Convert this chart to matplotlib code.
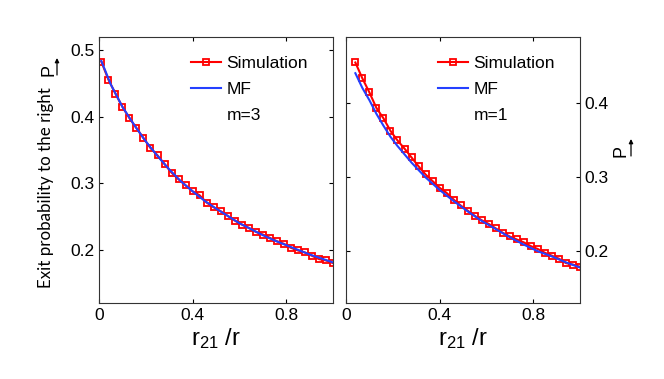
import matplotlib
matplotlib.use('Agg')
import matplotlib.pyplot as plt
from matplotlib.lines import Line2D
from matplotlib.patches import FancyArrowPatch

plt.rcParams['font.family'] = ['Liberation Sans', 'DejaVu Sans']
plt.rcParams['mathtext.fontset'] = 'custom'
plt.rcParams['mathtext.rm'] = 'Liberation Sans'

# left panel, m=3
x_sim3 = [0.01, 0.04, 0.07, 0.10, 0.13, 0.16, 0.19, 0.22, 0.25, 0.28, 0.31, 0.34,
          0.37, 0.40, 0.43, 0.46, 0.49, 0.52, 0.55, 0.58, 0.61, 0.64, 0.67, 0.70,
          0.73, 0.76, 0.79, 0.82, 0.85, 0.88, 0.91, 0.94, 0.97, 1.00]
y_sim3 = [0.483, 0.456, 0.435, 0.415, 0.398, 0.383, 0.368, 0.353, 0.342, 0.329,
          0.316, 0.306, 0.297, 0.288, 0.282, 0.271, 0.264, 0.258, 0.251, 0.244,
          0.238, 0.233, 0.227, 0.223, 0.218, 0.213, 0.209, 0.203, 0.199, 0.196,
          0.191, 0.186, 0.184, 0.180]
x_mf3 = [0.01, 0.05, 0.10, 0.15, 0.20, 0.25, 0.30, 0.35, 0.40, 0.45, 0.50,
         0.55, 0.60, 0.65, 0.70, 0.75, 0.80, 0.85, 0.90, 0.95, 1.00]
y_mf3 = [0.484, 0.449, 0.415, 0.388, 0.363, 0.341, 0.321, 0.303, 0.288, 0.274,
         0.262, 0.251, 0.240, 0.231, 0.222, 0.214, 0.207, 0.200, 0.193, 0.187, 0.181]

# right panel, m=1
x_sim1 = [0.04, 0.07, 0.10, 0.13, 0.16, 0.19, 0.22, 0.25, 0.28, 0.31, 0.34, 0.37,
          0.40, 0.43, 0.46, 0.49, 0.52, 0.55, 0.58, 0.61, 0.64, 0.67, 0.70, 0.73,
          0.76, 0.79, 0.82, 0.85, 0.88, 0.91, 0.94, 0.97, 1.00]
y_sim1 = [0.4555, 0.434, 0.415, 0.394, 0.380, 0.363, 0.350, 0.339, 0.327, 0.315,
          0.304, 0.295, 0.286, 0.279, 0.270, 0.262, 0.255, 0.248, 0.242, 0.237,
          0.231, 0.225, 0.220, 0.216, 0.212, 0.207, 0.203, 0.198, 0.194, 0.190,
          0.184, 0.182, 0.179]
x_mf1 = [0.04, 0.07, 0.10, 0.13, 0.16, 0.19, 0.22, 0.28, 0.34, 0.40, 0.46, 0.52,
         0.58, 0.64, 0.70, 0.76, 0.82, 0.88, 0.94, 1.00]
y_mf1 = [0.441, 0.421, 0.4045, 0.386, 0.370, 0.355, 0.3425, 0.320, 0.300, 0.283,
         0.268, 0.254, 0.241, 0.230, 0.219, 0.209, 0.200, 0.193, 0.185, 0.178]

xticks = [0, 0.4, 0.8]
xticklabels = ['0', '0.4', '0.8']

red = '#ff0000'
blue = '#2440ff'

fig = plt.figure(figsize=(6.64, 3.79), dpi=100)
ax1 = fig.add_axes([99/664, 76/379, 234/664, 266/379])
ax2 = fig.add_axes([346/664, 76/379, 234/664, 266/379])


def panel(ax, xs, ys, xm, ym, mlabel):
    ax.plot(xs, ys, '-s', color=red, lw=1.5, ms=4.8, mfc='none', mec=red, mew=1.3,
            label='Simulation')
    ax.plot(xm, ym, '-', color=blue, lw=1.5, label='MF')
    ax.set_xlim(0, 1.0)
    ax.set_xticks(xticks)
    ax.set_xticklabels(xticklabels)
    ax.tick_params(direction='in', length=3, width=0.8, labelsize=12.5,
                   top=True, right=True)
    for s in ax.spines.values():
        s.set_linewidth(0.8)
        s.set_color('#333333')
    ax.set_xlabel(r'$\mathregular{r_{21}}$ /r', fontsize=17, labelpad=2)
    handles, labels = ax.get_legend_handles_labels()
    handles.append(Line2D([], [], color='none'))
    labels.append(mlabel)
    ax.legend(handles, labels, loc='upper right', frameon=False, fontsize=12.5,
              handlelength=1.75, handletextpad=0.3, labelspacing=0.62,
              borderaxespad=0.3, bbox_to_anchor=(0.945, 0.975))


def p_label(x, y, ax_x, y0, y1):
    # "P" with a small arrow at its foot (rotated label)
    fig.text(x/664, 1 - y/379, 'P', rotation=90, ha='center', va='center',
             fontsize=13)
    arr = FancyArrowPatch((ax_x/664, 1 - y0/379), (ax_x/664, 1 - y1/379),
                          transform=fig.transFigure, arrowstyle='-|>',
                          mutation_scale=6, lw=0.9, color='black',
                          shrinkA=0, shrinkB=0)
    fig.add_artist(arr)


panel(ax1, x_sim3, y_sim3, x_mf3, y_mf3, 'm=3')
ax1.set_ylim(0.12, 0.52)
ax1.set_yticks([0.2, 0.3, 0.4, 0.5])

panel(ax2, x_sim1, y_sim1, x_mf1, y_mf1, 'm=1')
ax2.set_ylim(0.13, 0.49)
ax2.set_yticks([0.2, 0.3, 0.4])
ax2.tick_params(labelleft=False, labelright=True)

fig.text(46/664, 1 - 188/379, 'Exit probability to the right', rotation=90,
         ha='center', va='center', fontsize=12.2, family=['Lato', 'DejaVu Sans'])
p_label(49, 70, 57, 75, 58)
p_label(621, 151, 631, 156, 139)

fig.savefig('out.png', dpi=100)
